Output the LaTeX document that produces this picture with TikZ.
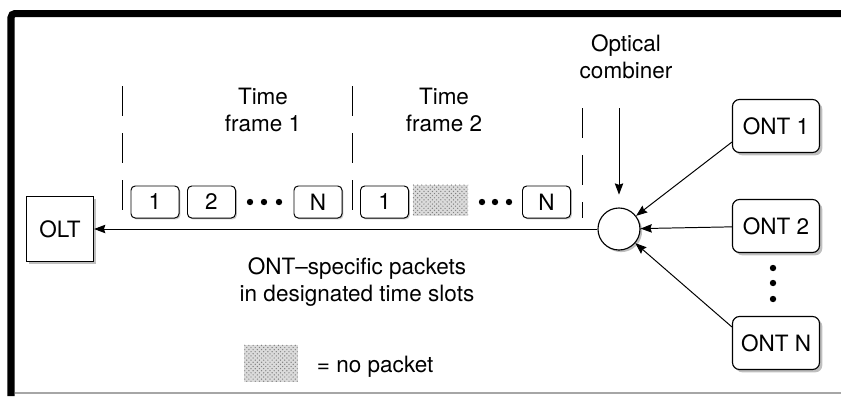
\documentclass[tikz,border=0pt]{standalone}
\usepackage{fontspec}
\setmainfont{TeX Gyre Heros}
\usetikzlibrary{arrows.meta,shadows,patterns}

\tikzset{
	box/.style={draw, line width=0.8pt, fill=white, drop shadow={shadow xshift=2pt, shadow yshift=-2pt, fill=black!50}},
	oltbox/.style={box, minimum width=1.675cm, minimum height=1.625cm},
	ontbox/.style={box, rounded corners=5pt, minimum width=2.175cm, minimum height=1.325cm},
	slot/.style={draw, line width=0.7pt, rounded corners=3pt, fill=white, minimum width=1.2cm, minimum height=0.8cm, inner sep=0pt, drop shadow={shadow xshift=1pt, shadow yshift=-1pt, fill=black!40}},
	noslot/.style={preaction={fill=black!14}, pattern=crosshatch dots, pattern color=black!50, minimum width=1.375cm, minimum height=0.775cm},
	combiner/.style={circle, draw, line width=0.8pt, fill=white, minimum size=1.05cm, drop shadow={shadow xshift=1.5pt, shadow yshift=-1.5pt, fill=black!50}},
	divider/.style={line width=0.7pt, dash pattern=on 0.75cm off 0.425cm},
	link/.style={line width=0.7pt, -{Stealth[length=8pt, width=6pt, inset=1pt]}}
}

\begin{document}
\begin{tikzpicture}[x=0.025cm, y=-0.025cm, font=\fontsize{16}{19.2}\selectfont]
	\useasboundingbox (0,0) rectangle (841,396);
	\draw[line width=0.175cm, rounded corners=0.1cm] (11,396) -- (11,13.5) -- (841,13.5);
	\draw[black!35, line width=0.8pt] (15,393) -- (841,393);

	\node[oltbox] (olt) at (60,229) {OLT};
	\node[combiner] (comb) at (619,229) {};
	\node[ontbox] (ont1) at (776,126) {ONT 1};
	\node[ontbox] (ont2) at (776,226) {ONT 2};
	\node[ontbox] (ontN) at (776,343) {ONT N};
	\foreach \y in {268,283,299}
		\fill (773,\y) circle (0.08cm);

	\node[align=center] (opt) at (626,57) {Optical\\combiner};
	\coordinate (combtop) at (619,108);
	\draw[link, shorten >=0.32cm] (combtop) -- (comb);

	\draw[link] (comb) -- (olt);
	\draw[link] (ont1.200) -- (comb);
	\draw[link] (ont2) -- (comb);
	\draw[link] (ontN.160) -- (comb);

	\draw[divider] (122,86) -- (122,213);
	\draw[divider] (352,86) -- (352,213);
	\draw[divider] (582,108) -- (582,218);
	\node[align=center] (tf1) at (263,110) {Time\\frame 1};
	\node[align=center] (tf2) at (444,110) {Time\\frame 2};

	\node[slot] (a1) at (155,202) {1};
	\node[slot] (a2) at (211.5,202) {2};
	\node[slot] (aN) at (318,202) {N};
	\node[slot] (b1) at (384.5,202) {1};
	\node[noslot] (b2) at (440.5,200) {};
	\node[slot] (bN) at (546.5,202) {N};
	\foreach \x in {250,264,279,482,495,509}
		\fill (\x,202) circle (0.08cm);

	\node[align=center] (note) at (357,282) {ONT--specific packets\\in designated time slots};
	\node[noslot, minimum width=1.325cm, minimum height=0.925cm] (key) at (271,363) {};
	\node[anchor=west] (keytxt) at (312,367) {= no packet};
\end{tikzpicture}
\end{document}
